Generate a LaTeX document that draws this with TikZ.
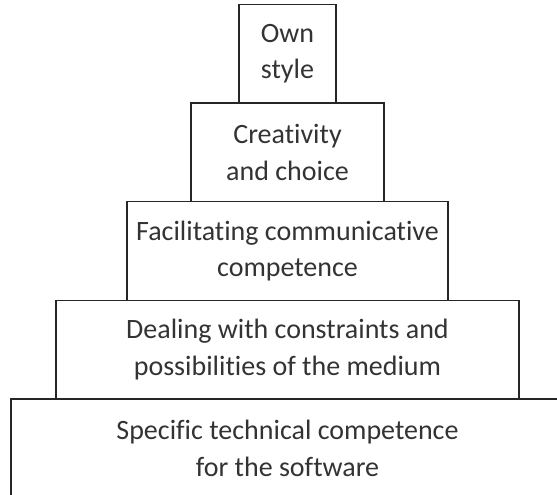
\documentclass[tikz,border=0pt]{standalone}
\usepackage{fontspec}
\setmainfont{Carlito}[Ligatures=NoCommon]
\usetikzlibrary{positioning}

\begin{document}
\begin{tikzpicture}[x=0.75pt, y=-0.75pt,
    tier/.style={draw=black!85, line width=0.8pt, outer sep=0pt, align=center, inner sep=2pt,
                 font=\fontsize{21}{27.5}\selectfont, text=black!80, minimum height=74pt}]
    \useasboundingbox (0,0) rectangle (557,494);

    % base of the pyramid, running off the page
    \node[tier, anchor=north, minimum width=414.75pt] (spec) at (287.5,399) {Specific technical competence\\for the software};

    % tiers stacked on top of each other
    \node[tier, above=0pt of spec, minimum width=347.25pt] (deal) {Dealing with constraints and\\possibilities of the medium};
    \node[tier, above=0pt of deal, minimum width=240.75pt] (facil) {Facilitating communicative\\competence};
    \node[tier, above=0pt of facil, minimum width=144.75pt] (creat) {Creativity\\and choice};
    \node[tier, above=0pt of creat, minimum width=72.75pt] (own) {Own\\style};
\end{tikzpicture}
\end{document}
